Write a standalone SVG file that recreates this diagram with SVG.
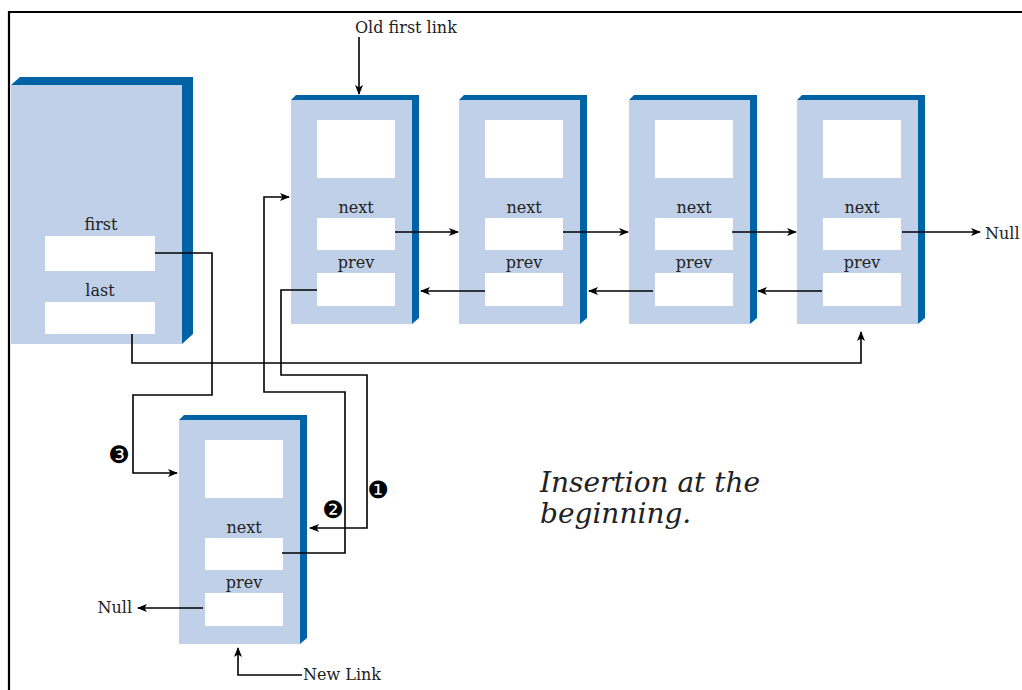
<svg xmlns="http://www.w3.org/2000/svg" width="1022" height="690" viewBox="0 0 1022 690">
<defs>
<style>
.face{fill:#BFD0E8}
.edge{fill:#0063A6}
.box{fill:#FFFFFF}
.lbl{font-family:"DejaVu Serif","Liberation Serif",serif;font-size:16px;fill:#222}
.mid{text-anchor:middle}
.ln{fill:none;stroke:#000;stroke-width:1.6}
.arr{marker-end:url(#ah)}
.num{font-family:"DejaVu Sans",sans-serif;font-size:24px;fill:#000;text-anchor:middle;dominant-baseline:central}
.cap{font-family:"DejaVu Serif","Liberation Serif",serif;font-style:italic;font-size:28px;fill:#222}
</style>
<marker id="ah" viewBox="0 0 10 8" refX="9" refY="4" markerWidth="10" markerHeight="8" markerUnits="userSpaceOnUse" orient="auto">
<path d="M0,0 L10,4 L0,8 L2.5,4 Z" fill="#000"/>
</marker>
<g id="linkshape">
<rect class="face" x="0" y="0" width="121" height="224"/>
<path class="edge" d="M0,0 L5,-5 L128,-5 L128,218 L121,224 L121,0 Z"/>
<rect class="box" x="26" y="20" width="78" height="58"/>
<rect class="box" x="26" y="118" width="78" height="32"/>
<rect class="box" x="26" y="173" width="78" height="33"/>
<text class="lbl mid" x="65" y="113">next</text>
<text class="lbl mid" x="65" y="168">prev</text>
</g>
</defs>
<rect x="0" y="0" width="1022" height="690" fill="#FFFFFF"/>
<path d="M9,690 L9,12 L1022,12" fill="none" stroke="#000" stroke-width="2.2"/>

<g id="list">
<rect class="face" x="11" y="85" width="171" height="259"/>
<path class="edge" d="M11,85 L20,77 L193,77 L193,334 L182,344 L182,85 Z"/>
<text class="lbl mid" x="101" y="230">first</text>
<rect class="box" x="45" y="236" width="110" height="35"/>
<text class="lbl mid" x="100" y="296">last</text>
<rect class="box" x="45" y="302" width="110" height="32"/>
</g>

<g id="link1"><use href="#linkshape" x="291" y="100"/></g>
<g id="link2"><use href="#linkshape" x="459" y="100"/></g>
<g id="link3"><use href="#linkshape" x="629" y="100"/></g>
<g id="link4"><use href="#linkshape" x="797" y="100"/></g>
<g id="newlink"><use href="#linkshape" x="179" y="420"/></g>

<g id="connectors">
<path class="ln arr" d="M359,37 L359,94"/>
<path class="ln arr" d="M395,232 L458,232"/>
<path class="ln arr" d="M563,232 L628,232"/>
<path class="ln arr" d="M732,232 L796,232"/>
<path class="ln arr" d="M902,232 L980,232"/>
<path class="ln arr" d="M485,291 L421,291"/>
<path class="ln arr" d="M653,291 L589,291"/>
<path class="ln arr" d="M822,291 L758,291"/>
<path class="ln arr" d="M155,253 L212,253 L212,395 L133,395 L133,473 L177,473"/>
<path class="ln arr" d="M132,334 L132,363 L861,363 L861,332"/>
<path class="ln arr" d="M282,553 L345,553 L345,392 L264,392 L264,197 L289,197"/>
<path class="ln arr" d="M317,290 L281,290 L281,375 L367,375 L367,528 L310,528"/>
<path class="ln arr" d="M203,608 L138,608"/>
<path class="ln arr" d="M302,675 L238,675 L238,648"/>
</g>

<g id="labels">
<text class="lbl" x="355" y="33">Old first link</text>
<text class="lbl" x="985" y="239">Null</text>
<text class="lbl" x="132" y="613" text-anchor="end">Null</text>
<text class="lbl" x="303" y="680">New Link</text>
<text class="num" x="378" y="490">❶</text>
<text class="num" x="333" y="510">❷</text>
<text class="num" x="119" y="455">❸</text>
<text class="cap" x="540" y="492">Insertion at the</text>
<text class="cap" x="540" y="523">beginning.</text>
</g>
</svg>
